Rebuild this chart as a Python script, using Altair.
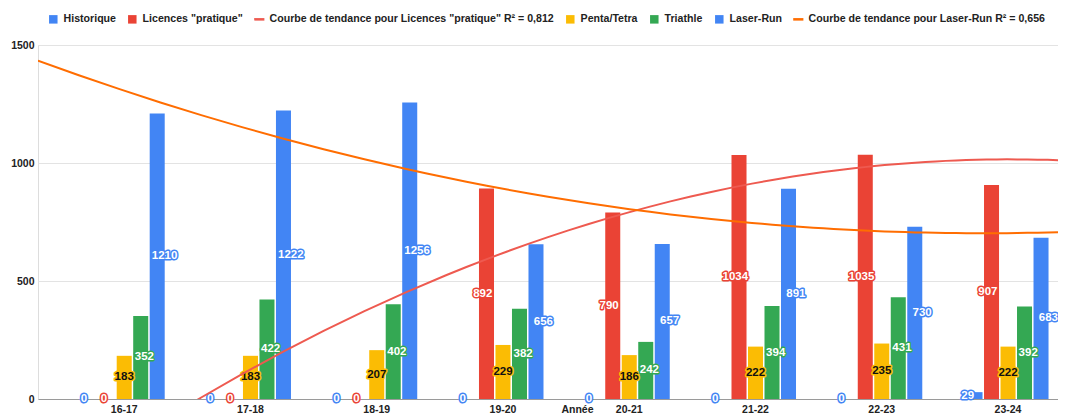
import altair as alt
import pandas as pd

# ---- data ----
years = ["16-17", "17-18", "18-19", "19-20", "20-21", "21-22", "22-23", "23-24"]
year_index = [1, 2, 3, 4, 5, 6, 7, 8]
historique = [0, 0, 0, 0, 0, 0, 0, 29]
licences = [0, 0, 0, 892, 790, 1034, 1035, 907]
penta = [183, 183, 207, 229, 186, 222, 235, 222]
triathle = [352, 422, 402, 382, 242, 394, 431, 392]
laser = [1210, 1222, 1256, 656, 657, 891, 730, 683]

bar_series = ["Historique", 'Licences "pratique"', "Penta/Tetra", "Triathle", "Laser-Run"]
trend_lic = 'Courbe de tendance pour Licences "pratique" R² = 0,812'
trend_laser = "Courbe de tendance pour Laser-Run R² = 0,656"
legend_order = ["Historique", 'Licences "pratique"', trend_lic, "Penta/Tetra",
                "Triathle", "Laser-Run", trend_laser]
legend_colors = ["#4285F4", "#EA4335", "#EE5A50", "#FBBC04", "#34A853", "#4285F4", "#FF6D01"]
square = "M-1,-1H1V1H-1Z"
dash = "M-1.2,-0.3H1.2V0.3H-1.2Z"
legend_shapes = [square, square, dash, square, square, square, dash]

FONT = "Liberation Sans"
X_EXTENT = [0.3173, 8.3958]

bars_df = pd.DataFrame([
    {"year": y, "series": s, "value": v}
    for s, vals in zip(bar_series, [historique, licences, penta, triathle, laser])
    for y, v in zip(years, vals)
])
trend_df = pd.DataFrame(
    [{"idx": i, "trend": trend_lic, "value": v} for i, v in zip(year_index, licences)]
    + [{"idx": i, "trend": trend_laser, "value": v} for i, v in zip(year_index, laser)]
)
legend_df = pd.DataFrame({"series": legend_order})

color_scale = alt.Scale(domain=legend_order, range=legend_colors)
y_scale = alt.Scale(domain=[0, 1500], nice=False)
x_band = alt.Scale(domain=years, paddingInner=0.3466, paddingOuter=0.2126, align=0.8375)
xoff_scale = alt.Scale(domain=bar_series, paddingInner=0.09, paddingOuter=0.045)

x_axis = alt.Axis(title="Année", labelFont=FONT, labelFontWeight="bold", labelFontSize=10.5,
                  labelColor="#222", labelPadding=5, ticks=False, tickSize=0, domain=True,
                  domainColor="#9a9a9a", domainWidth=1, labelAngle=0, grid=False,
                  titleFont=FONT, titleFontWeight="bold", titleFontSize=10.5, titleColor="#222",
                  titleX=539, titleY=5, titleBaseline="top", titlePadding=0)
y_axis = alt.Axis(title=None, values=[0, 500, 1000, 1500], format="d", labelFont=FONT,
                  labelFontWeight="bold", labelFontSize=10.5, labelColor="#222", labelPadding=4,
                  ticks=False, domain=False, grid=True, gridColor="#e3e3e3", gridWidth=1)

bars = alt.Chart(bars_df).mark_bar(clip=True).encode(
    x=alt.X("year:N", scale=x_band, axis=x_axis, sort=years),
    xOffset=alt.XOffset("series:N", scale=xoff_scale, sort=bar_series),
    y=alt.Y("value:Q", scale=y_scale, axis=y_axis),
    color=alt.Color("series:N", scale=color_scale, legend=None),
)

label_base = alt.Chart(bars_df).transform_calculate(mid="datum.value / 2")

halo = label_base.mark_text(font=FONT, fontWeight="bold", fontSize=11.5, strokeWidth=3,
                            baseline="middle", align="center", strokeJoin="round").encode(
    x=alt.X("year:N", scale=x_band, axis=None, sort=years),
    xOffset=alt.XOffset("series:N", scale=xoff_scale, sort=bar_series),
    y=alt.Y("mid:Q", scale=y_scale, axis=y_axis),
    text=alt.Text("value:Q"),
    stroke=alt.Stroke("series:N", scale=alt.Scale(domain=legend_order, range=legend_colors), legend=None),
    fill=alt.Fill("series:N", scale=alt.Scale(domain=legend_order, range=legend_colors), legend=None),
)

labels = label_base.mark_text(font=FONT, fontWeight="bold", fontSize=11.5,
                              baseline="middle", align="center").encode(
    x=alt.X("year:N", scale=x_band, axis=None, sort=years),
    xOffset=alt.XOffset("series:N", scale=xoff_scale, sort=bar_series),
    y=alt.Y("mid:Q", scale=y_scale, axis=y_axis),
    text=alt.Text("value:Q"),
    color=alt.condition(alt.datum.series == "Penta/Tetra", alt.value("#111111"), alt.value("#ffffff")),
)

trends = alt.Chart(trend_df).transform_regression(
    "idx", "value", groupby=["trend"], method="poly", order=2, extent=X_EXTENT
).mark_line(clip=True, strokeWidth=2).encode(
    x=alt.X("idx:Q", scale=alt.Scale(domain=X_EXTENT, nice=False, zero=False), axis=None),
    y=alt.Y("value:Q", scale=y_scale, axis=y_axis),
    color=alt.Color("trend:N", scale=color_scale, legend=None),
    detail="trend:N",
)

legend_props = dict(title=None, orient="none", legendX=10, legendY=-31,
                    direction="horizontal", columns=7, columnPadding=11,
                    labelOffset=5, symbolSize=72, symbolOpacity=1,
                    labelFont=FONT, labelFontWeight="bold", labelFontSize=10.6,
                    labelColor="#222", labelLimit=500, symbolStrokeWidth=0)

legend_layer = alt.Chart(legend_df).mark_point(filled=True, opacity=0).encode(
    color=alt.Color("series:N", scale=color_scale, sort=legend_order,
                    legend=alt.Legend(**legend_props)),
    shape=alt.Shape("series:N", scale=alt.Scale(domain=legend_order, range=legend_shapes),
                    sort=legend_order, legend=alt.Legend(**legend_props)),
)

chart = alt.layer(bars, halo, labels, trends, legend_layer).resolve_scale(
    x="independent", xOffset="independent", stroke="independent", fill="independent"
).resolve_legend(
    color="independent", shape="independent"
).properties(
    width=1020, height=354,
    padding={"left": 30, "top": 37, "right": 0, "bottom": 17},
    autosize=alt.AutoSizeParams(type="none"),
).configure_view(stroke=None).configure(background="white")

chart.save("out.html", embed_options={"renderer": "svg", "actions": False})
